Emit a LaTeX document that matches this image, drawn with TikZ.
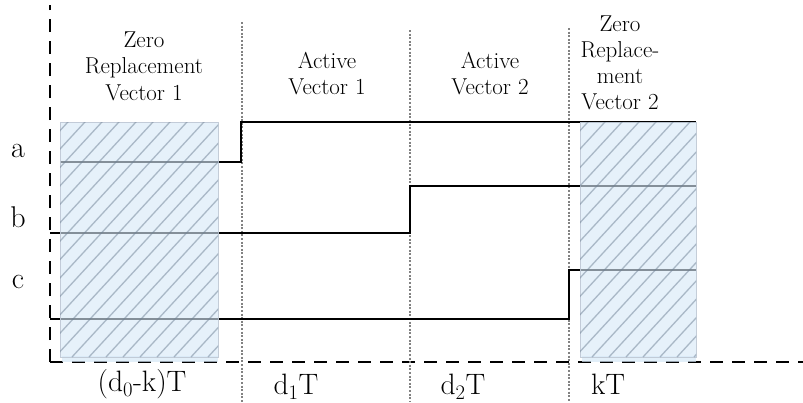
\documentclass[tikz,border=0pt]{standalone}
\usetikzlibrary{calc}
\definecolor{boxblue}{RGB}{214,232,247}
\definecolor{boxedge}{RGB}{190,200,212}
\definecolor{hatchgray}{RGB}{110,128,148}
\definecolor{divgray}{RGB}{130,130,130}
\begin{document}
\begin{tikzpicture}[x=1pt,y=-1pt,
  axisline/.style={line width=1.8pt, dash pattern=on 13pt off 9pt},
  divider/.style={divgray, line width=1.3pt, dash pattern=on 2pt off 1.6pt},
  signal/.style={line width=2.8pt, line join=miter},
  shadebox/.style={fill=boxblue, fill opacity=0.62, draw=boxedge, draw opacity=0.9, line width=1pt},
  hatchline/.style={hatchgray, line width=1.3pt, opacity=0.5},
  titletext/.style={font=\fontsize{23}{26}\selectfont, anchor=base, inner sep=0pt},
  phase/.style={font=\fontsize{30}{34}\selectfont, anchor=base, inner sep=0pt},
  duration/.style={font=\fontsize{29.5}{34}\selectfont, anchor=base, inner sep=0pt}]
\useasboundingbox (0,0) rectangle (803,402);

% axes
\coordinate (origin) at (50,362);
\coordinate (ytop) at (50,5);
\coordinate (xend) at (803,362);
\draw[axisline] (origin) -- (ytop);
\draw[axisline] (origin) -- (xend);

% interval dividers
\coordinate (t1top) at (242,22);  \coordinate (t1bot) at (242,402);
\coordinate (t2top) at (410,30);  \coordinate (t2bot) at (410,402);
\coordinate (t3top) at (569,28);  \coordinate (t3bot) at (569,402);
\draw[divider] (t1top) -- (t1bot);
\draw[divider] (t2top) -- (t2bot);
\draw[divider] (t3top) -- (t3bot);

% switching signals
\draw[signal] (60,162) -- (241,162) -- (241,122) -- (696,122);
\draw[signal] (50,233) -- (410,233) -- (410,186) -- (696,186);
\draw[signal] (50,319) -- (569,319) -- (569,270) -- (696,270);

% zero-vector intervals
\foreach \xl/\xr in {60/218, 580/696}{
  \fill[boxblue, opacity=0.7] (\xl+2,356) rectangle (\xr,362);
  \draw[shadebox] (\xl,122) rectangle (\xr,357);
  \begin{scope}
    \clip (\xl,122) rectangle (\xr,357);
    \foreach \k in {-260,-243,...,200}
      \draw[hatchline] (\xl+\k,357) -- ++(240,-260);
  \end{scope}
}

% phase labels
\node[phase] (la) at (18,157) {a};
\node[phase] (lb) at (18,227) {b};
\node[phase] (lc) at (18,288) {c};

% interval titles
\node[titletext] (z1a) at (144,47) {Zero};
\node[titletext] (z1b) at (144,73.5) {Replacement};
\node[titletext] (z1c) at (144,100) {Vector 1};
\node[titletext] (a1a) at (327,68) {Active};
\node[titletext] (a1b) at (327,94.5) {Vector 1};
\node[titletext] (a2a) at (490,68) {Active};
\node[titletext] (a2b) at (490,94.5) {Vector 2};
\node[titletext] (z2a) at (620,31) {Zero};
\node[titletext] (z2b) at (620,57) {Replace-};
\node[titletext] (z2c) at (620,83) {ment};
\node[titletext] (z2d) at (620,109) {Vector 2};

% interval durations
\node[duration] (d0) at (142,391) {(d\textsubscript{0}-k)T};
\node[duration] (d1) at (296,394) {d\textsubscript{1}T};
\node[duration] (d2) at (463,394) {d\textsubscript{2}T};
\node[duration] (dk) at (608,394) {kT};
\end{tikzpicture}
\end{document}
